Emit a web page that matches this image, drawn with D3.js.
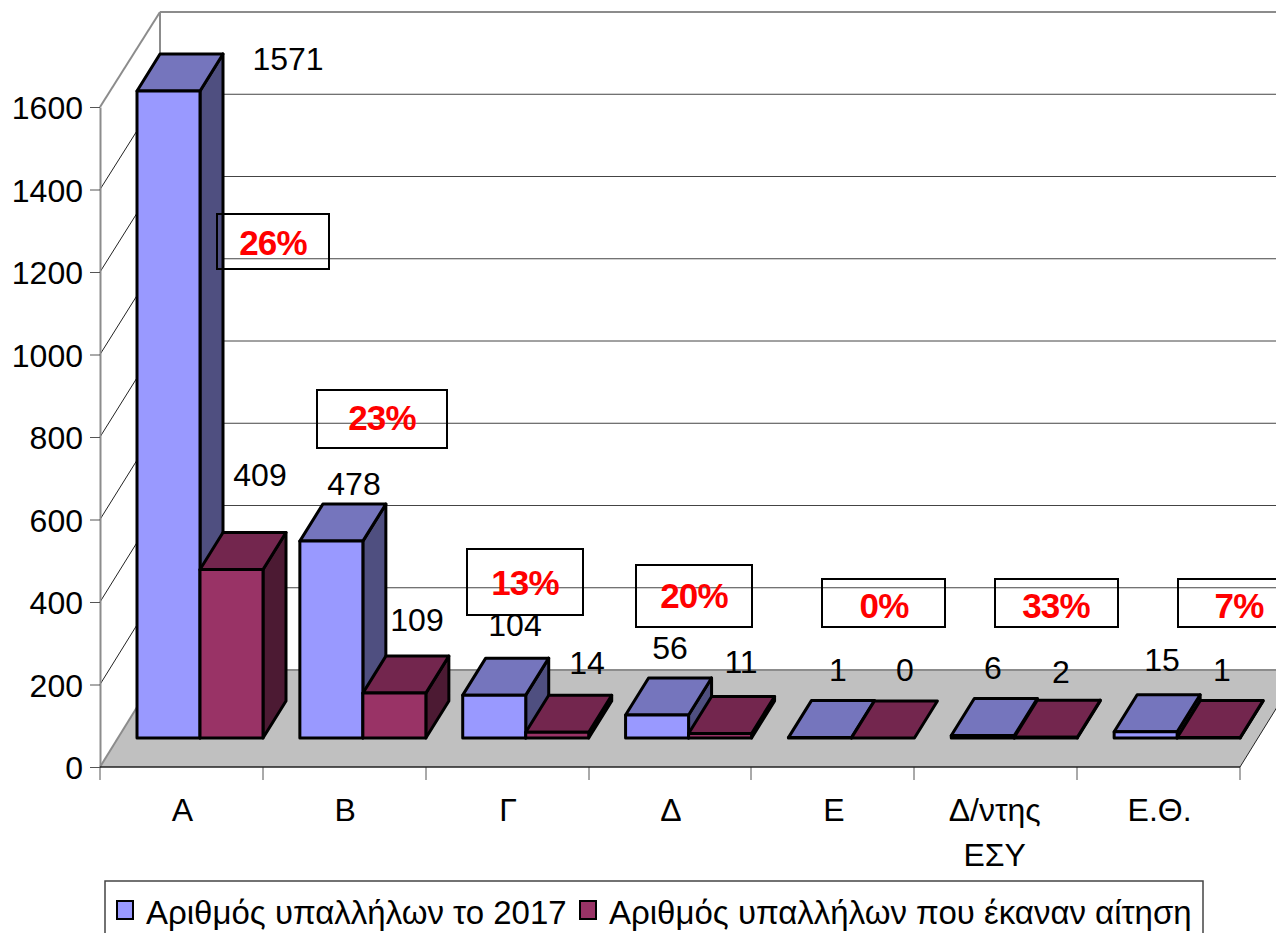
<!DOCTYPE html>
<html><head><meta charset="utf-8">
<script src="https://cdn.jsdelivr.net/npm/d3@7/dist/d3.min.js"></script>
<style>html,body{margin:0;padding:0;background:#fff;overflow:hidden}svg{display:block}text{font-family:"Liberation Sans",Arial,sans-serif}</style>
</head><body><svg id="c" width="1276" height="933"></svg>
<script>
const categories = ["Α","Β","Γ","Δ","Ε","Δ/ντης ΕΣΥ","Ε.Θ."];
const employees2017 = [1571,478,104,56,1,6,15];
const applicants = [409,109,14,11,0,2,1];
const percentLabels = ["26%","23%","13%","20%","0%","33%","7%"];
const yTicks = [0,200,400,600,800,1000,1200,1400,1600];
const seriesNames = ["Αριθμός υπαλλήλων το 2017","Αριθμός υπαλλήλων που έκαναν αίτηση"];

// layout only
const frontLeft=100, frontRight=1240, frontBase=767, frontTop=107;
const backLeft=160, backBase=670, backTop=12;
const barDx=23, barDy=-37, barBase=738, barW=63, barStart=37;
const fs=33, fsNum=32;
const colors=[{f:"#9999FF",t:"#7575BD",s:"#4F4F80"},{f:"#993366",t:"#73264E",s:"#4C1A33"}];
const valueLabelPos=[[[288,59],[260,475]],[[354,484],[417,620]],[[515,625],[587,663]],[[670,648],[741,662]],[[838,670],[905,670]],[[993,668],[1061,672]],[[1162,660],[1222,670]]];
const boxes=[[217,214,112,55],[317,390,130,58],[467,549,116,66],[636,565,116,62],[822,579,123,48],[995,579,123,48],[1178,579,130,48]];
const pctPos=[[273,242],[382,417],[525,582],[694,595],[884,605],[1056,605],[1239,605]];

const svg=d3.select("#c");
const x=d3.scaleBand().domain(categories).range([frontLeft,frontRight]);
const yFront=d3.scaleLinear().domain([0,1600]).range([frontBase,frontTop]);
const yBack=d3.scaleLinear().domain([0,1600]).range([backBase,backTop]);
const yLen=d3.scaleLinear().domain([0,1600]).range([0,659]);
const poly=p=>p.map(q=>q.join(",")).join(" ");

// walls
const grid=svg.append("g");
yTicks.forEach(t=>{
  if(t>0&&t<1600){
    grid.append("line").attr("x1",backLeft).attr("x2",1276).attr("y1",yBack(t)).attr("y2",yBack(t)).attr("stroke","#444").attr("stroke-width",1);
    grid.append("line").attr("x1",frontLeft).attr("y1",yFront(t)).attr("x2",backLeft).attr("y2",yBack(t)).attr("stroke","#222").attr("stroke-width",1);
  }
});
// floor
const floorDx=backLeft-frontLeft;
svg.append("polygon").attr("points",poly([[frontLeft,frontBase],[frontRight,frontBase],[frontRight+floorDx,backBase],[backLeft,backBase]])).attr("fill","#C0C0C0");
const gray="#8c8c8c";
const ln=(a,b,c,d,col,w)=>svg.append("line").attr("x1",a).attr("y1",b).attr("x2",c).attr("y2",d).attr("stroke",col).attr("stroke-width",w);
ln(backLeft,backBase,1276,backBase,gray,2);
ln(frontLeft,frontBase,backLeft,backBase,gray,2);
ln(frontRight,frontBase,frontRight+floorDx,backBase,"#222",1);
ln(backLeft,backTop,1276,backTop,gray,2);
ln(backLeft,backTop,backLeft,backBase,gray,2);
ln(frontLeft,frontTop,backLeft,backTop,gray,2);

// axes
const yAxis=svg.append("g").attr("transform",`translate(${frontLeft},0)`).call(d3.axisLeft(yFront).tickValues(yTicks).tickFormat(d3.format("d")).tickSize(10).tickSizeOuter(0).tickPadding(7));
yAxis.selectAll("text").attr("font-size",fsNum).attr("fill","#000").attr("dy","0.36em").style("font-family",'"Liberation Sans"');
yAxis.selectAll("line").attr("stroke","#555");
yAxis.select(".domain").attr("stroke",gray).attr("stroke-width",2);
const tickEdges=categories.map(c=>x(c)).concat([frontRight]);
svg.append("g").selectAll("line").data(tickEdges).join("line").attr("x1",d=>Math.round(d)).attr("x2",d=>Math.round(d)).attr("y1",frontBase).attr("y2",frontBase+13).attr("stroke","#555");
ln(frontLeft,frontBase,frontRight,frontBase,"#222",1.5);

categories.forEach(c=>{
  const cx=x(c)+x.bandwidth()/2;
  const lines=c.split(" ");
  lines.forEach((l,i)=>svg.append("text").attr("x",cx+(lines.length>1?-1:1)).attr("y",821+i*45).attr("text-anchor","middle").attr("font-size",fsNum).text(l));
});

// bars
const sw=3;
categories.forEach((c,i)=>{
  [employees2017[i],applicants[i]].forEach((v,k)=>{
    const x0=x(c)+barStart+k*barW, x1=x0+barW, h=yLen(v), yt=barBase-h;
    const col=colors[k], g=svg.append("g").attr("stroke","#000").attr("stroke-width",sw).attr("stroke-linejoin","round");
    if(v>0) g.append("polygon").attr("points",poly([[x1,yt],[x1+barDx,yt+barDy],[x1+barDx,barBase+barDy],[x1,barBase]])).attr("fill",col.s);
    g.append("polygon").attr("points",poly([[x0,yt],[x1,yt],[x1+barDx,yt+barDy],[x0+barDx,yt+barDy]])).attr("fill",col.t);
    if(v>0) g.append("rect").attr("x",x0).attr("y",yt).attr("width",barW).attr("height",h).attr("fill",col.f);
  });
});

// value labels
categories.forEach((c,i)=>{
  [employees2017[i],applicants[i]].forEach((v,k)=>{
    const p=valueLabelPos[i][k];
    svg.append("text").attr("x",p[0]).attr("y",p[1]).attr("dy","0.33em").attr("text-anchor","middle").attr("font-size",fsNum).text(v);
  });
});

// percent boxes
percentLabels.forEach((t,i)=>{
  const b=boxes[i],p=pctPos[i];
  svg.append("rect").attr("x",b[0]).attr("y",b[1]).attr("width",b[2]).attr("height",b[3]).attr("fill","none").attr("stroke","#000").attr("stroke-width",2);
  svg.append("text").attr("x",p[0]).attr("y",p[1]).attr("dy","0.36em").attr("text-anchor","middle").attr("font-size",35).attr("letter-spacing",-0.8).attr("font-weight","bold").attr("fill","#FF0000").text(t);
});

// legend
svg.append("rect").attr("x",105).attr("y",881).attr("width",1098).attr("height",70).attr("fill","#fff").attr("stroke","#444").attr("stroke-width",1.5);
const legX=[[117,146],[580,609]];
seriesNames.forEach((n,k)=>{
  svg.append("rect").attr("x",legX[k][0]).attr("y",901).attr("width",16).attr("height",18).attr("fill",colors[k].f).attr("stroke","#000").attr("stroke-width",2);
  svg.append("text").attr("x",legX[k][1]).attr("y",924).attr("font-size",fs).text(n);
});
</script></body></html>
